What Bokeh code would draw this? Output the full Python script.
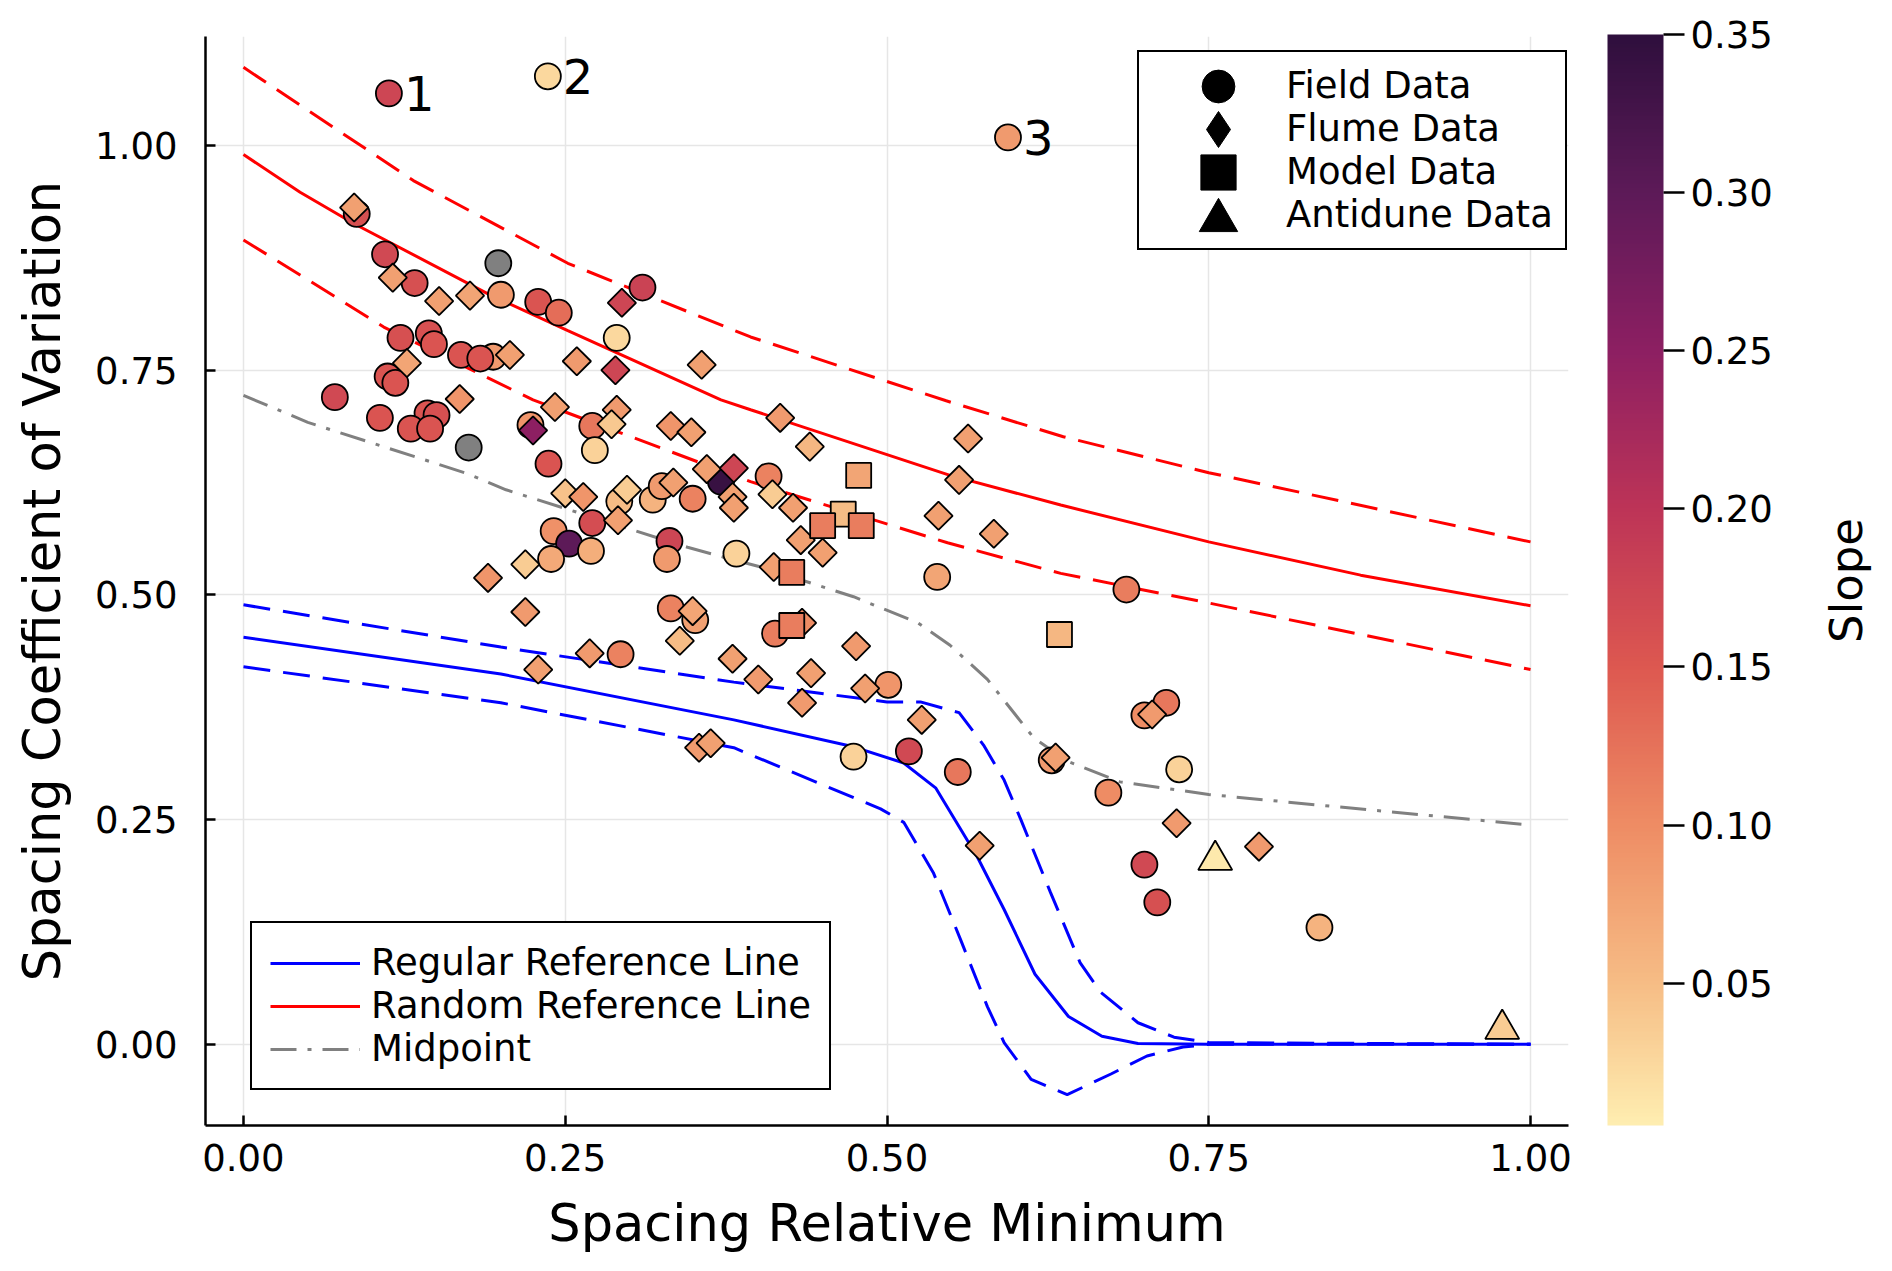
import numpy as np

from bokeh.core.properties import value
from bokeh.embed import file_html
from bokeh.models import (ColorBar, ColumnDataSource, FixedTicker, Label,
                          Legend, LegendItem, LinearColorMapper,
                          PrintfTickFormatter, Range1d)
from bokeh.plotting import figure
from bokeh.resources import INLINE

FONT = "DejaVu Sans"
nan = float("nan")

# reference curves
regular_x = [0.0, 0.2, 0.381, 0.474, 0.513, 0.538, 0.57, 0.591, 0.615, 0.641, 0.667, 0.695, 0.75, 1.0]
regular_y = [0.453, 0.412, 0.361, 0.331, 0.313, 0.285, 0.209, 0.15, 0.078, 0.031, 0.009, 0.001, 0.0, 0.0]
regular_hi_x = [0.0, 0.2, 0.381, 0.5, 0.526, 0.556, 0.575, 0.591, 0.604, 0.627, 0.65, 0.666, 0.695, 0.723, 0.75, 1.0]
regular_hi_y = [0.489, 0.442, 0.403, 0.381, 0.381, 0.369, 0.333, 0.294, 0.25, 0.169, 0.091, 0.058, 0.024, 0.008, 0.002, 0.0]
regular_lo_x = [0.0, 0.2, 0.381, 0.495, 0.513, 0.536, 0.557, 0.578, 0.591, 0.612, 0.64, 0.674, 0.702, 0.73, 0.75, 1.0]
regular_lo_y = [0.42, 0.38, 0.33, 0.262, 0.247, 0.191, 0.117, 0.042, 0.002, -0.039, -0.056, -0.033, -0.013, -0.003, 0.0, 0.0]

random_x = [0.0, 0.044, 0.086, 0.19, 0.252, 0.371, 0.394, 0.549, 0.635, 0.75, 0.868, 1.0]
random_y = [0.99, 0.948, 0.913, 0.835, 0.794, 0.717, 0.706, 0.633, 0.60, 0.559, 0.522, 0.488]
random_hi_x = [0.0, 0.132, 0.252, 0.394, 0.546, 0.637, 0.75, 1.0]
random_hi_y = [1.087, 0.961, 0.869, 0.787, 0.716, 0.676, 0.636, 0.559]
random_lo_x = [0.0, 0.044, 0.109, 0.225, 0.394, 0.547, 0.635, 0.75, 1.0]
random_lo_y = [0.895, 0.856, 0.798, 0.717, 0.626, 0.558, 0.524, 0.491, 0.417]

mid_x = [0.0, 0.05, 0.174, 0.204, 0.345, 0.373, 0.402, 0.474, 0.524, 0.549, 0.578, 0.614, 0.64, 0.681, 0.75, 0.837, 1.0]
mid_y = [0.722, 0.692, 0.635, 0.617, 0.553, 0.542, 0.531, 0.498, 0.469, 0.444, 0.406, 0.341, 0.315, 0.292, 0.278, 0.266, 0.244]

# field data (circles); nan slope = grey
field_x = [0.113, 0.2365, 0.594, 0.088, 0.110, 0.133, 0.198, 0.200, 0.229, 0.245,
           0.310, 0.290, 0.122, 0.144, 0.148, 0.169, 0.194, 0.184, 0.112, 0.118,
           0.071, 0.106, 0.143, 0.150, 0.130, 0.145, 0.175, 0.223, 0.237, 0.271,
           0.273, 0.292, 0.318, 0.325, 0.349, 0.371, 0.271, 0.241, 0.253, 0.270,
           0.239, 0.331, 0.329, 0.383, 0.332, 0.351, 0.408, 0.413, 0.293, 0.501,
           0.474, 0.517, 0.555, 0.539, 0.628, 0.672, 0.686, 0.700, 0.717, 0.727,
           0.700, 0.710, 0.836]
field_y = [1.058, 1.077, 1.009, 0.924, 0.879, 0.847, 0.869, 0.834, 0.826, 0.814,
           0.842, 0.786, 0.786, 0.791, 0.779, 0.767, 0.765, 0.763, 0.743, 0.736,
           0.720, 0.697, 0.702, 0.700, 0.685, 0.685, 0.664, 0.689, 0.646, 0.688,
           0.661, 0.604, 0.606, 0.621, 0.607, 0.626, 0.580, 0.571, 0.557, 0.549,
           0.540, 0.560, 0.540, 0.546, 0.485, 0.472, 0.632, 0.457, 0.434, 0.400,
           0.320, 0.326, 0.303, 0.520, 0.316, 0.280, 0.506, 0.366, 0.380, 0.306,
           0.200, 0.158, 0.130]
field_slope = [0.175, 0.025, 0.085, 0.16, 0.17, 0.16, nan, 0.085, 0.155, 0.13,
               0.18, 0.025, 0.16, 0.16, 0.155, 0.155, 0.085, 0.155, 0.155, 0.155,
               0.17, 0.155, 0.155, 0.16, 0.155, 0.155, nan, 0.09, 0.155, 0.12,
               0.03, 0.05, 0.06, 0.085, 0.11, 0.34, 0.165, 0.095, 0.30, 0.065,
               0.07, 0.175, 0.085, 0.03, 0.11, 0.08, 0.11, 0.115, 0.11, 0.09,
               0.03, 0.17, 0.12, 0.075, 0.085, 0.10, 0.115, 0.10, 0.12, 0.03,
               0.17, 0.16, 0.06]

# flume data (diamonds)
flume_x = [0.086, 0.116, 0.127, 0.152, 0.176, 0.207, 0.168, 0.190, 0.219, 0.219,
           0.229, 0.225, 0.242, 0.259, 0.250, 0.264, 0.269, 0.290, 0.286, 0.289,
           0.294, 0.291, 0.298, 0.332, 0.348, 0.356, 0.334, 0.360, 0.381, 0.380,
           0.381, 0.349, 0.339, 0.380, 0.400, 0.354, 0.363, 0.417, 0.411, 0.412,
           0.427, 0.440, 0.433, 0.450, 0.434, 0.441, 0.434, 0.476, 0.483, 0.527,
           0.540, 0.556, 0.563, 0.583, 0.572, 0.631, 0.706, 0.725, 0.789]
flume_y = [0.931, 0.853, 0.758, 0.827, 0.833, 0.767, 0.718, 0.519, 0.534, 0.481,
           0.417, 0.683, 0.709, 0.760, 0.613, 0.609, 0.435, 0.706, 0.690, 0.750,
           0.825, 0.583, 0.617, 0.688, 0.681, 0.756, 0.625, 0.640, 0.641, 0.609,
           0.597, 0.482, 0.449, 0.429, 0.406, 0.330, 0.335, 0.697, 0.612, 0.531,
           0.597, 0.665, 0.561, 0.547, 0.469, 0.413, 0.380, 0.443, 0.396, 0.361,
           0.588, 0.628, 0.674, 0.568, 0.221, 0.319, 0.367, 0.246, 0.220]
flume_slope = [0.08, 0.08, 0.075, 0.08, 0.075, 0.08, 0.09, 0.09, 0.035, 0.085,
               0.08, 0.25, 0.08, 0.085, 0.045, 0.09, 0.085, 0.085, 0.04, 0.175,
               0.175, 0.08, 0.035, 0.09, 0.08, 0.08, 0.08, 0.08, 0.175, 0.08,
               0.08, 0.075, 0.05, 0.08, 0.085, 0.085, 0.08, 0.085, 0.035, 0.08,
               0.08, 0.055, 0.08, 0.08, 0.10, 0.08, 0.085, 0.085, 0.08, 0.08,
               0.08, 0.08, 0.08, 0.08, 0.08, 0.08, 0.085, 0.085, 0.085]

# model data (squares)
model_x = [0.478, 0.466, 0.450, 0.480, 0.426, 0.426, 0.634]
model_y = [0.633, 0.590, 0.577, 0.577, 0.525, 0.466, 0.456]
model_slope = [0.075, 0.05, 0.115, 0.115, 0.115, 0.115, 0.055]

# antidune data (triangles)
anti_x = [0.755, 0.978]
anti_y = [0.205, 0.017]
anti_slope = [0.01, 0.035]

# numbered outliers (indices into the field data)
outlier_idx = [0, 1, 2]
outlier_text = ["1", "2", "3"]

slope_low, slope_high = 0.005, 0.35
cbar_ticks = [0.05, 0.10, 0.15, 0.20, 0.25, 0.30, 0.35]
axis_ticks = [0.0, 0.25, 0.5, 0.75, 1.0]

kind_labels = ["Field Data", "Flume Data", "Model Data", "Antidune Data"]
kind_markers = ["circle", "diamond", "square", "triangle"]


def matter_palette(n=256):
    stops = ["#FEEDB0", "#F6BC85", "#EE8C64", "#DD5850",
             "#BD3457", "#8D1F62", "#5D1A58", "#2F0F3D"]
    pos = [0.0, 0.13, 0.275, 0.42, 0.565, 0.71, 0.855, 1.0]
    rgb = np.array([[int(c[i:i + 2], 16) for i in (1, 3, 5)] for c in stops], float)
    out = []
    for t in np.linspace(0, 1, n):
        r, g, b = (np.interp(t, pos, rgb[:, k]) for k in range(3))
        out.append("#%02x%02x%02x" % (int(round(r)), int(round(g)), int(round(b))))
    return out


mapper = LinearColorMapper(palette=matter_palette(), low=slope_low,
                           high=slope_high, nan_color="#808080")

p = figure(width=1892, height=1255,
           x_range=Range1d(-0.0295, 1.0295), y_range=Range1d(-0.0903, 1.1213),
           output_backend="svg", toolbar_location=None,
           min_border_left=205, min_border_right=324,
           min_border_top=36, min_border_bottom=128,
           x_axis_label="Spacing Relative Minimum",
           y_axis_label="Spacing Coefficient of Variation")
p.outline_line_color = None
p.background_fill_color = "white"

for ax in (p.xaxis, p.yaxis):
    ax.ticker = FixedTicker(ticks=axis_ticks)
    ax.formatter = PrintfTickFormatter(format="%.2f")
    ax.major_tick_in = 10
    ax.major_tick_out = 0
    ax.minor_tick_line_color = None
    ax.axis_line_width = 2.5
    ax.major_tick_line_width = 2.5
    ax.major_label_text_font = FONT
    ax.major_label_text_font_size = "37px"
    ax.major_label_text_color = "black"
    ax.axis_label_text_font = FONT
    ax.axis_label_text_font_size = "51px"
    ax.axis_label_text_font_style = "normal"
    ax.axis_label_text_color = "black"
p.yaxis.major_label_standoff = 28
p.yaxis.axis_label_standoff = 20
p.xaxis.major_label_standoff = 18
p.xaxis.axis_label_standoff = 20
p.grid.grid_line_color = "#e6e6e6"
p.grid.grid_line_width = 1.5

dash = "27 13"
reg_line = p.line(regular_x, regular_y, color="blue", line_width=3)
p.line(regular_hi_x, regular_hi_y, color="blue", line_width=3, line_dash=dash)
p.line(regular_lo_x, regular_lo_y, color="blue", line_width=3, line_dash=dash)
ran_line = p.line(random_x, random_y, color="red", line_width=3)
p.line(random_hi_x, random_hi_y, color="red", line_width=3, line_dash=dash)
p.line(random_lo_x, random_lo_y, color="red", line_width=3, line_dash=dash)
mid_line = p.line(mid_x, mid_y, color="gray", line_width=3, line_dash="26 11 4 11")

fill = {"field": "slope", "transform": mapper}
field_src = ColumnDataSource(data=dict(x=field_x, y=field_y, slope=np.array(field_slope)))
flume_src = ColumnDataSource(data=dict(x=flume_x, y=flume_y, slope=np.array(flume_slope)))
model_src = ColumnDataSource(data=dict(x=model_x, y=model_y, slope=np.array(model_slope)))
anti_src = ColumnDataSource(data=dict(x=anti_x, y=anti_y, slope=np.array(anti_slope)))

p.scatter("x", "y", source=field_src, marker="circle", size=26,
          fill_color=fill, line_color="black", line_width=1.8)
p.scatter("x", "y", source=flume_src, marker="square", angle=45, angle_units="deg",
          size=20, fill_color=fill, line_color="black", line_width=1.8)
p.scatter("x", "y", source=model_src, marker="square", size=25,
          fill_color=fill, line_color="black", line_width=1.8)
p.scatter("x", "y", source=anti_src, marker="triangle", size=34,
          fill_color=fill, line_color="black", line_width=1.8)

p.text(x=[field_x[i] for i in outlier_idx], y=[field_y[i] for i in outlier_idx],
       text=outlier_text, x_offset=15, text_align="left", text_baseline="middle",
       text_font=value(FONT), text_font_size="48px", text_color="black")


def boxed_legend(items, **kw):
    return Legend(items=items, margin=0, spacing=0,
                  label_text_font=FONT, label_text_font_size="37px",
                  label_text_color="black",
                  border_line_color="black", border_line_width=2.5,
                  border_line_alpha=1.0, background_fill_alpha=1.0, **kw)


# legend of the reference lines
p.add_layout(boxed_legend([LegendItem(label="Regular Reference Line", renderers=[reg_line]),
                           LegendItem(label="Random Reference Line", renderers=[ran_line]),
                           LegendItem(label="Midpoint", renderers=[mid_line])],
                          location=(45, 35), padding=18, glyph_height=42,
                          glyph_width=90, label_standoff=11))

# legend of the data kinds: a boxed list of labels, then the black symbols
# laid over it (a legend draws its markers at 0.4 x glyph box, so each symbol
# gets its own box size)
blank = p.scatter(x=[nan], y=[nan], marker="circle", fill_alpha=0, line_alpha=0)
p.add_layout(boxed_legend([LegendItem(label=t, renderers=[blank]) for t in kind_labels],
                          location=(932, 875), padding=12, glyph_height=41,
                          glyph_width=135, label_standoff=0, label_width=0))

sym_box = [82, 90, 88, 96]
sym_cy = [1039, 996, 953, 905]
for mk, g, cy in zip(kind_markers, sym_box, sym_cy):
    r = p.scatter(x=[nan], y=[nan], marker=mk, color="black")
    p.add_layout(Legend(items=[LegendItem(label=" ", renderers=[r])],
                        location=(1013 - g // 2, cy - g // 2), margin=0, padding=0,
                        glyph_width=g, glyph_height=g, label_width=0,
                        label_standoff=0, border_line_color=None,
                        background_fill_alpha=0))

cbar = ColorBar(color_mapper=mapper, location=(1402, 0), width=56, height=1091,
                padding=0, margin=0,
                ticker=FixedTicker(ticks=cbar_ticks),
                formatter=PrintfTickFormatter(format="%.2f"),
                major_tick_in=0, major_tick_out=21,
                major_tick_line_color="black", major_tick_line_width=2.5,
                minor_tick_line_color=None,
                label_standoff=6, major_label_text_font=FONT,
                major_label_text_font_size="37px", major_label_text_color="black",
                bar_line_color=None, border_line_color=None,
                background_fill_color=None)
p.add_layout(cbar)

# colour bar title, placed in the right-hand panel (outside the frame)
p.add_layout(Label(x=278, y=545, x_units="screen", y_units="screen",
                   text="Slope", angle=90, angle_units="deg",
                   text_align="center", text_baseline="middle",
                   text_font=FONT, text_font_size="45px", text_color="black"),
             "right")

open("out.html", "w").write(file_html(p, INLINE))
